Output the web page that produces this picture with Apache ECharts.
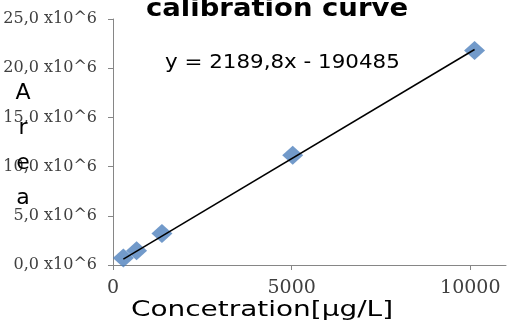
<!DOCTYPE html>
<html>
<head>
<meta charset="utf-8">
<script src="https://cdn.jsdelivr.net/npm/echarts@6/dist/echarts.min.js"></script>
<style>html,body{margin:0;padding:0;background:#fff;}#c{width:515px;height:329px;}</style>
</head>
<body>
<div id="c"></div>
<script>
// Data
const concentration = [290, 660, 1370, 5030, 10120];
const area = [0.72e6, 1.45e6, 3.2e6, 11.15e6, 21.8e6];
const trendX = [290, 10120];
const trendY = [0.6e6, 21.9e6];
const xTicks = [0, 5000, 10000];
const titleText = 'calibration curve';
const equationText = 'y = 2189,8x - 190485';
const xName = 'Concetration[µg/L]';
const yName = 'Area';

const chart = echarts.init(document.getElementById('c'), null, {renderer: 'canvas'});
const axisColor = '#868686';
const labelColor = '#404040';

chart.setOption({
  animation: false,
  backgroundColor: '#fff',
  grid: {left: 113, right: 9, top: 19, bottom: 64, containLabel: false, outerBoundsMode: 'none'},
  xAxis: {
    type: 'value', min: 0, max: 11000, interval: 5000,
    axisLine: {show: true, lineStyle: {color: axisColor, width: 1}},
    axisTick: {show: true, inside: false, length: 5, lineStyle: {color: axisColor}, customValues: xTicks},
    axisLabel: {customValues: xTicks, margin: 14, fontFamily: 'DejaVu Serif', fontSize: 19, color: labelColor,
      formatter: v => String(v)},
    splitLine: {show: false}
  },
  yAxis: {
    type: 'value', min: 0, max: 25e6, interval: 5e6,
    axisLine: {show: true, lineStyle: {color: axisColor, width: 1}},
    axisTick: {show: true, inside: false, length: 5, lineStyle: {color: axisColor}},
    axisLabel: {
      margin: 16, fontFamily: 'DejaVu Serif', fontSize: 16, color: labelColor,
      formatter: v => (v / 1e6).toFixed(1).replace('.', ',') + ' x10^6'
    },
    splitLine: {show: false}
  },
  graphic: [
    {type: 'text', x: 277, y: 9, scaleX: 1.1, z: 10,
     style: {text: titleText, fontFamily: 'DejaVu Sans', fontWeight: 'bold', fontSize: 25, fill: '#000', textAlign: 'center', textVerticalAlign: 'middle'}},
    {type: 'text', x: 23, y: 146, z: 10,
     style: {text: yName.split('').join('\n'), fontFamily: 'DejaVu Sans', fontSize: 22, lineHeight: 35, fill: '#000', textAlign: 'center', textVerticalAlign: 'middle'}},
    {type: 'text', x: 165, y: 63, scaleX: 1.07, z: 10,
     style: {text: equationText, fontFamily: 'DejaVu Sans', fontSize: 20, fill: '#000', textAlign: 'left', textVerticalAlign: 'middle'}},
    {type: 'text', x: 262, y: 311, scaleX: 1.33, z: 10,
     style: {text: xName, fontFamily: 'DejaVu Sans', fontSize: 21, fill: '#000', textAlign: 'center', textVerticalAlign: 'middle'}}
  ],
  series: [
    {
      type: 'scatter', name: 'Area',
      data: concentration.map((x, i) => [x, area[i]]),
      symbol: 'diamond', symbolSize: [21, 19],
      itemStyle: {color: '#4F81BD'}, z: 2
    },
    {
      type: 'line', name: 'Trend',
      data: trendX.map((x, i) => [x, trendY[i]]),
      showSymbol: false, symbol: 'none',
      lineStyle: {color: '#000', width: 1.5}, z: 3
    }
  ]
});
</script>
</body>
</html>
